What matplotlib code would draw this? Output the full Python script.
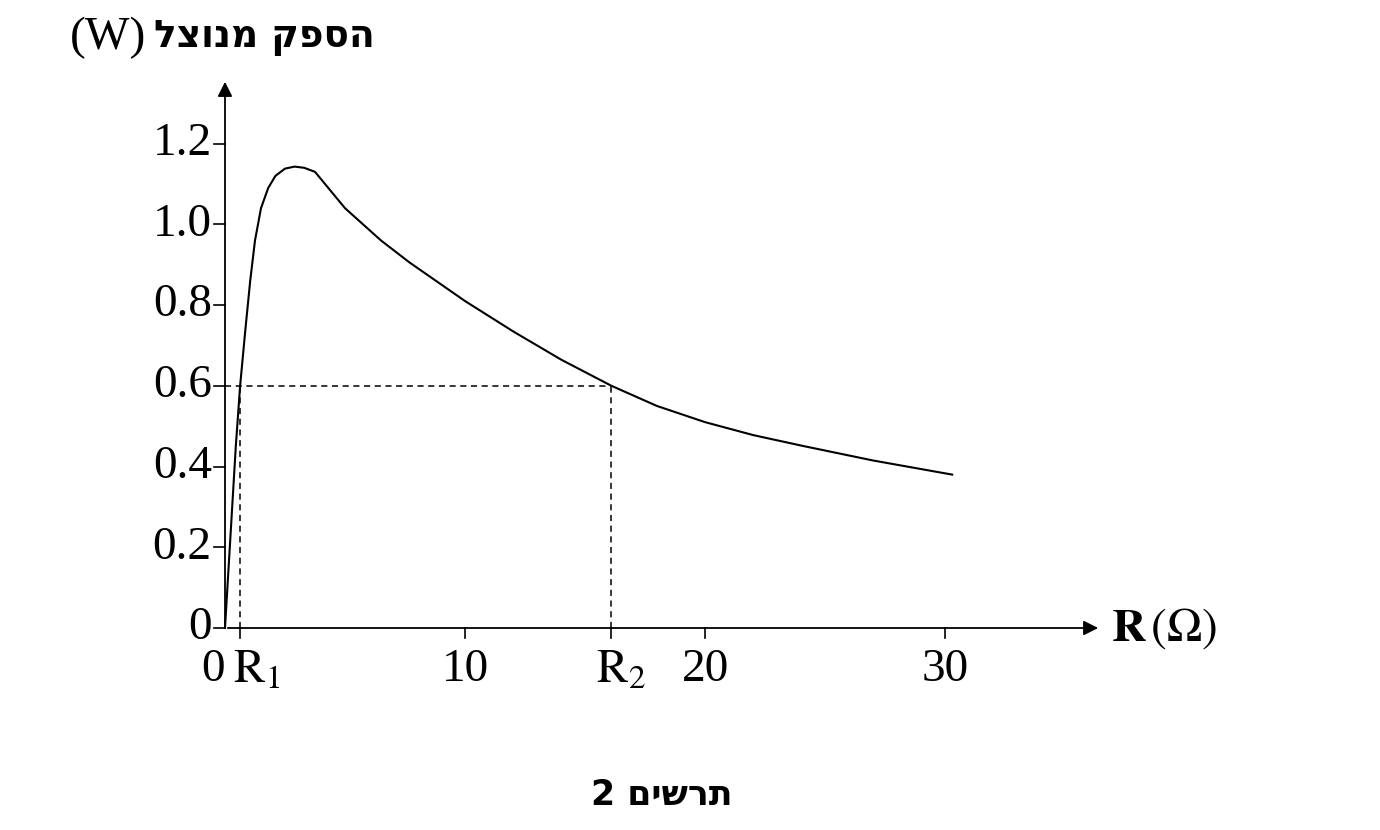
import matplotlib
matplotlib.use("Agg")
import matplotlib.pyplot as plt

# curve
resistance = [0, 0.15, 0.3, 0.45, 0.63, 0.85, 1.05, 1.25, 1.5, 1.8, 2.1, 2.5, 2.9, 3.3, 3.75,
              5.0, 6.5, 7.7, 10.0, 12.0, 14.0, 16.1, 18.0, 20.0, 22.0, 24.0, 27.0, 30.3]
power = [0, 0.15, 0.3, 0.45, 0.6, 0.74, 0.86, 0.96, 1.04, 1.09, 1.12, 1.138, 1.143, 1.14, 1.13,
         1.04, 0.96, 0.905, 0.81, 0.735, 0.665, 0.6, 0.55, 0.51, 0.478, 0.452, 0.415, 0.38]
xticks = [10, 20, 30]
yticks = [0, 0.2, 0.4, 0.6, 0.8, 1.0, 1.2]
yticklabels = ["0", "0.2", "0.4", "0.6", "0.8", "1.0", "1.2"]
r1, r2, p_mark = 0.63, 16.1, 0.6

plt.rcParams["mathtext.fontset"] = "stix"
serif = "Liberation Serif"
fs = 34

fig = plt.figure(figsize=(13.8, 8.3), dpi=100)
ax = fig.add_axes([225 / 1380, 202 / 830, 876 / 1380, 549 / 830])
ax.set_xlim(0, 36.5)
ax.set_ylim(0, 1.36)
for s in ax.spines.values():
    s.set_visible(False)
ax.set_xticks([])
ax.set_yticks([])

ax.plot(resistance, power, color="black", lw=1.5, clip_on=False)

# axes with arrows
ax.annotate("", xy=(36.5, 0), xytext=(0, 0),
            arrowprops=dict(arrowstyle="-|>", color="black", lw=1.3, mutation_scale=22), annotation_clip=False)
ax.annotate("", xy=(0, 1.36), xytext=(0, 0),
            arrowprops=dict(arrowstyle="-|>", color="black", lw=1.3, mutation_scale=22), annotation_clip=False)

# dashed guides
ax.plot([0, r2], [p_mark, p_mark], ls="--", color="black", lw=1.1, dashes=(4, 3))
ax.plot([r1, r1], [0, p_mark], ls="--", color="black", lw=1.1, dashes=(4, 3))
ax.plot([r2, r2], [0, p_mark], ls="--", color="black", lw=1.1, dashes=(4, 3))

# ticks
for y, lab in zip(yticks, yticklabels):
    ax.plot([-0.45, 0], [y, y], color="black", lw=1.2, clip_on=False)
    ax.text(-0.55, y, lab, ha="right", va="center", fontsize=fs, family=serif)
for x in xticks + [r1, r2]:
    ax.plot([x, x], [0, -0.025], color="black", lw=1.2, clip_on=False)
for x in xticks:
    ax.text(x, -0.05, str(x), ha="center", va="top", fontsize=fs, family=serif)
ax.text(-0.5, -0.05, "0", ha="center", va="top", fontsize=fs, family=serif)
ax.text(r1 + 0.7, -0.05, r"$\mathrm{R}_1$", ha="center", va="top", fontsize=fs)
ax.text(r2 + 0.4, -0.05, r"$\mathrm{R}_2$", ha="center", va="top", fontsize=fs)

# axis labels
ax.text(36.9, 0, r"$\mathbf{R}\,(\Omega)$", ha="left", va="center", fontsize=fs)
fig.text(70 / 1380, 792 / 830, "(W)", ha="left", va="center", fontsize=fs, family=serif)
fig.text(375 / 1380, 792 / 830, "הספק מנוצל"[::-1], ha="right", va="center", fontsize=27,
         fontweight="bold", family="DejaVu Sans")
fig.text(662 / 1380, 35 / 830, "תרשים 2"[::-1], ha="center", va="center", fontsize=25,
         fontweight="bold", family="DejaVu Sans")

fig.savefig("out.png", dpi=100)
